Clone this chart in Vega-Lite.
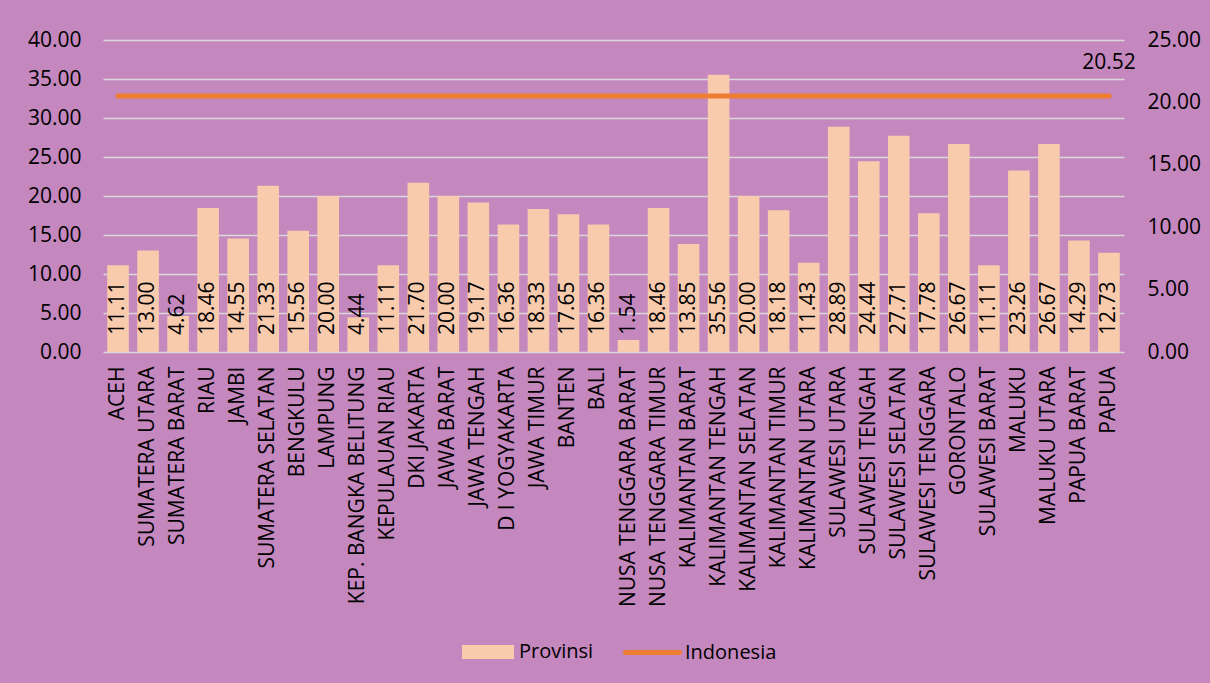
{
  "$schema": "https://vega.github.io/schema/vega-lite/v6.json",
  "width": 1021,
  "height": 312,
  "autosize": {"type": "none"},
  "padding": {"left": 103, "top": 40, "right": 86, "bottom": 331},
  "background": "#C487BE",
  "config": {
    "font": "Open Sans",
    "view": {"stroke": null},
    "axis": {"labelColor": "#000000", "labelFontSize": 21, "labelFont": "Open Sans", "domain": false, "ticks": false, "title": null},
    "legend": {"labelColor": "#000000", "labelFontSize": 20, "labelFont": "Open Sans"}
  },
  "data": {
    "values": [
      {"prov": "ACEH", "provinsi": 11.11, "indonesia": 20.52},
      {"prov": "SUMATERA UTARA", "provinsi": 13.00, "indonesia": 20.52},
      {"prov": "SUMATERA BARAT", "provinsi": 4.62, "indonesia": 20.52},
      {"prov": "RIAU", "provinsi": 18.46, "indonesia": 20.52},
      {"prov": "JAMBI", "provinsi": 14.55, "indonesia": 20.52},
      {"prov": "SUMATERA SELATAN", "provinsi": 21.33, "indonesia": 20.52},
      {"prov": "BENGKULU", "provinsi": 15.56, "indonesia": 20.52},
      {"prov": "LAMPUNG", "provinsi": 20.00, "indonesia": 20.52},
      {"prov": "KEP. BANGKA BELITUNG", "provinsi": 4.44, "indonesia": 20.52},
      {"prov": "KEPULAUAN RIAU", "provinsi": 11.11, "indonesia": 20.52},
      {"prov": "DKI JAKARTA", "provinsi": 21.70, "indonesia": 20.52},
      {"prov": "JAWA BARAT", "provinsi": 20.00, "indonesia": 20.52},
      {"prov": "JAWA TENGAH", "provinsi": 19.17, "indonesia": 20.52},
      {"prov": "D I YOGYAKARTA", "provinsi": 16.36, "indonesia": 20.52},
      {"prov": "JAWA TIMUR", "provinsi": 18.33, "indonesia": 20.52},
      {"prov": "BANTEN", "provinsi": 17.65, "indonesia": 20.52},
      {"prov": "BALI", "provinsi": 16.36, "indonesia": 20.52},
      {"prov": "NUSA TENGGARA BARAT", "provinsi": 1.54, "indonesia": 20.52},
      {"prov": "NUSA TENGGARA TIMUR", "provinsi": 18.46, "indonesia": 20.52},
      {"prov": "KALIMANTAN BARAT", "provinsi": 13.85, "indonesia": 20.52},
      {"prov": "KALIMANTAN TENGAH", "provinsi": 35.56, "indonesia": 20.52},
      {"prov": "KALIMANTAN SELATAN", "provinsi": 20.00, "indonesia": 20.52},
      {"prov": "KALIMANTAN TIMUR", "provinsi": 18.18, "indonesia": 20.52},
      {"prov": "KALIMANTAN UTARA", "provinsi": 11.43, "indonesia": 20.52},
      {"prov": "SULAWESI UTARA", "provinsi": 28.89, "indonesia": 20.52},
      {"prov": "SULAWESI TENGAH", "provinsi": 24.44, "indonesia": 20.52},
      {"prov": "SULAWESI SELATAN", "provinsi": 27.71, "indonesia": 20.52},
      {"prov": "SULAWESI TENGGARA", "provinsi": 17.78, "indonesia": 20.52},
      {"prov": "GORONTALO", "provinsi": 26.67, "indonesia": 20.52},
      {"prov": "SULAWESI BARAT", "provinsi": 11.11, "indonesia": 20.52},
      {"prov": "MALUKU", "provinsi": 23.26, "indonesia": 20.52},
      {"prov": "MALUKU UTARA", "provinsi": 26.67, "indonesia": 20.52},
      {"prov": "PAPUA BARAT", "provinsi": 14.29, "indonesia": 20.52},
      {"prov": "PAPUA", "provinsi": 12.73, "indonesia": 20.52}
    ]
  },
  "encoding": {
    "x": {
      "field": "prov", "type": "nominal", "sort": null,
      "scale": {"paddingInner": 0.28, "paddingOuter": 0.14},
      "axis": {"labelAngle": -90, "labelPadding": 14, "labelLimit": 400, "grid": false}
    }
  },
  "layer": [
    {
      "layer": [
        {
          "mark": {"type": "bar"},
          "encoding": {
            "y": {
              "field": "provinsi", "type": "quantitative",
              "scale": {"domain": [0, 40], "nice": false},
              "axis": {"orient": "left", "values": [0, 5, 10, 15, 20, 25, 30, 35, 40], "format": ".2f", "labelPadding": 22, "grid": true, "gridColor": "#D9D9D9", "gridWidth": 1.5, "labelOverlap": false}
            },
            "fill": {
              "datum": "Provinsi", "type": "nominal",
              "scale": {"domain": ["Provinsi"], "range": ["#F8CBAD"]},
              "legend": {"title": null, "orient": "none", "legendX": 359, "legendY": 586, "symbolType": "M-1,-0.27H1V0.27H-1Z", "symbolSize": 2704, "symbolStrokeWidth": 0, "labelOffset": 5, "padding": 0}
            }
          }
        },
        {
          "mark": {"type": "text", "angle": 270, "align": "left", "baseline": "middle", "dx": 17, "fontSize": 21, "color": "#000000"},
          "encoding": {
            "y": {
              "datum": 0, "type": "quantitative",
              "scale": {"domain": [0, 40], "nice": false},
              "axis": {"orient": "left", "values": [0, 5, 10, 15, 20, 25, 30, 35, 40], "format": ".2f", "labelPadding": 22, "grid": true, "gridColor": "#D9D9D9", "gridWidth": 1.5, "labelOverlap": false}
            },
            "text": {"field": "provinsi", "type": "quantitative", "format": ".2f"}
          }
        }
      ]
    },
    {
      "layer": [
        {
          "mark": {"type": "line", "strokeWidth": 5, "strokeCap": "round"},
          "encoding": {
            "y": {
              "field": "indonesia", "type": "quantitative",
              "scale": {"domain": [0, 25], "nice": false},
              "axis": {"orient": "right", "values": [0, 5, 10, 15, 20, 25], "format": ".2f", "labelPadding": 23, "grid": false, "labelOverlap": false}
            },
            "stroke": {
              "datum": "Indonesia", "type": "nominal",
              "scale": {"domain": ["Indonesia"], "range": ["#ED7D31"]},
              "legend": {"title": null, "orient": "none", "legendX": 520, "legendY": 583, "symbolType": "stroke", "symbolSize": 2916, "symbolStrokeWidth": 5, "labelOffset": 3, "padding": 0,
                "encode": {"symbols": {"update": {"strokeCap": {"value": "round"}}}}}
            }
          }
        },
        {
          "transform": [{"filter": "datum.prov === 'PAPUA'"}],
          "mark": {"type": "text", "align": "center", "baseline": "middle", "dy": -33, "fontSize": 21, "color": "#000000"},
          "encoding": {
            "y": {
              "field": "indonesia", "type": "quantitative",
              "scale": {"domain": [0, 25], "nice": false},
              "axis": {"orient": "right", "values": [0, 5, 10, 15, 20, 25], "format": ".2f", "labelPadding": 23, "grid": false, "labelOverlap": false}
            },
            "text": {"field": "indonesia", "type": "quantitative", "format": ".2f"}
          }
        }
      ]
    }
  ],
  "resolve": {"scale": {"y": "independent", "fill": "independent", "stroke": "independent"}}
}
